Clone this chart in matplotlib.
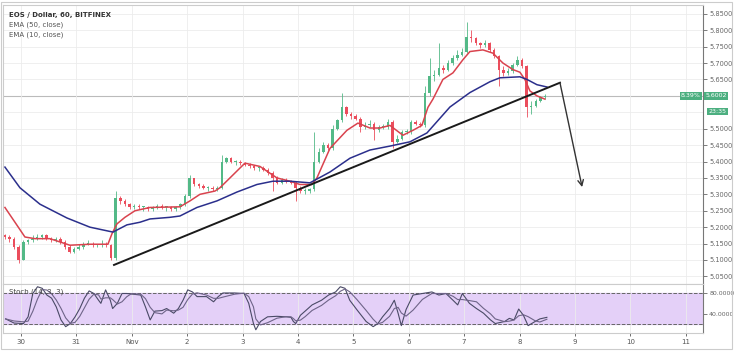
import numpy as np
import pandas as pd
import matplotlib
matplotlib.use('Agg')
import matplotlib.pyplot as plt
from matplotlib.patches import Rectangle

# %% data (x in days from Oct 30, hourly chart shown as 2h candles)
day_labels = ['30', '31', 'Nov', '2', '3', '4', '5', '6', '7', '8', '9', '10', '11']
first_candle_day = -0.29
candle_step_days = 2 / 24

closes = [5.17, 5.165, 5.14, 5.10, 5.155, 5.16, 5.165, 5.17, 5.175, 5.165,
          5.16, 5.165, 5.155, 5.14, 5.125, 5.135, 5.14, 5.15, 5.15, 5.145,
          5.145, 5.15, 5.145, 5.105, 5.29, 5.28, 5.27, 5.26, 5.265, 5.26,
          5.26, 5.255, 5.26, 5.265, 5.26, 5.26, 5.255, 5.26, 5.27, 5.295,
          5.35, 5.33, 5.325, 5.32, 5.32, 5.315, 5.32, 5.40, 5.41, 5.40,
          5.40, 5.395, 5.39, 5.385, 5.38, 5.38, 5.375, 5.365, 5.35, 5.335,
          5.345, 5.34, 5.335, 5.32, 5.31, 5.31, 5.315, 5.40, 5.43, 5.45,
          5.44, 5.50, 5.525, 5.565, 5.545, 5.54, 5.53, 5.505, 5.51, 5.515,
          5.495, 5.505, 5.505, 5.52, 5.46, 5.47, 5.49, 5.49, 5.52, 5.515,
          5.51, 5.61, 5.66, 5.665, 5.685, 5.68, 5.70, 5.715, 5.725, 5.735,
          5.78, 5.775, 5.76, 5.755, 5.76, 5.74, 5.72, 5.68, 5.67, 5.675,
          5.695, 5.71, 5.69, 5.565, 5.57, 5.585, 5.595, 5.60]
highs = [5.18, 5.175, 5.17, 5.145, 5.16, 5.165, 5.175, 5.18, 5.18, 5.18,
         5.17, 5.17, 5.17, 5.16, 5.145, 5.14, 5.15, 5.155, 5.16, 5.155,
         5.15, 5.16, 5.155, 5.15, 5.31, 5.295, 5.285, 5.275, 5.27, 5.27,
         5.265, 5.265, 5.265, 5.27, 5.27, 5.265, 5.265, 5.265, 5.275, 5.30,
         5.36, 5.35, 5.335, 5.33, 5.325, 5.325, 5.325, 5.42, 5.415, 5.415,
         5.405, 5.405, 5.40, 5.395, 5.39, 5.385, 5.385, 5.38, 5.37, 5.355,
         5.35, 5.35, 5.345, 5.34, 5.325, 5.32, 5.32, 5.49, 5.44, 5.46,
         5.455, 5.51, 5.53, 5.61, 5.57, 5.55, 5.545, 5.535, 5.52, 5.525,
         5.52, 5.51, 5.515, 5.53, 5.525, 5.48, 5.495, 5.50, 5.525, 5.525,
         5.52, 5.63, 5.715, 5.68, 5.76, 5.695, 5.71, 5.725, 5.74, 5.745,
         5.825, 5.80, 5.78, 5.765, 5.77, 5.765, 5.745, 5.725, 5.69, 5.685,
         5.70, 5.72, 5.715, 5.695, 5.585, 5.59, 5.60, 5.605]
lows = [5.165, 5.155, 5.135, 5.09, 5.10, 5.15, 5.155, 5.16, 5.165, 5.16,
        5.155, 5.155, 5.15, 5.135, 5.12, 5.12, 5.13, 5.135, 5.145, 5.14,
        5.14, 5.14, 5.14, 5.10, 5.10, 5.27, 5.265, 5.255, 5.255, 5.255,
        5.25, 5.25, 5.25, 5.255, 5.255, 5.25, 5.25, 5.25, 5.255, 5.265,
        5.29, 5.325, 5.32, 5.315, 5.31, 5.31, 5.31, 5.315, 5.395, 5.395,
        5.39, 5.39, 5.385, 5.38, 5.375, 5.37, 5.37, 5.36, 5.31, 5.33,
        5.33, 5.335, 5.33, 5.28, 5.305, 5.30, 5.305, 5.31, 5.395, 5.425,
        5.435, 5.435, 5.495, 5.52, 5.54, 5.53, 5.525, 5.49, 5.50, 5.505,
        5.465, 5.49, 5.50, 5.50, 5.44, 5.455, 5.465, 5.485, 5.485, 5.51,
        5.505, 5.505, 5.60, 5.645, 5.66, 5.67, 5.675, 5.695, 5.71, 5.72,
        5.73, 5.765, 5.755, 5.745, 5.75, 5.735, 5.715, 5.63, 5.66, 5.665,
        5.67, 5.69, 5.685, 5.535, 5.545, 5.565, 5.58, 5.59]
first_open = 5.175

ema10_days = [-0.289, -0.108, 0.072, 0.253, 0.523, 0.884, 1.245, 1.570, 1.643,
              1.733, 1.877, 2.058, 2.329, 2.870, 3.051, 3.231, 3.502, 3.592,
              3.773, 4.043, 4.314, 4.621, 4.856, 5.036, 5.253, 5.343, 5.578,
              5.884, 6.083, 6.300, 6.480, 6.661, 6.895, 7.076, 7.238, 7.347,
              7.437, 7.617, 7.798, 7.978, 8.105, 8.339, 8.520, 8.700, 8.881,
              9.007, 9.097, 9.188, 9.314, 9.458]
ema10_vals = [5.26, 5.215, 5.17, 5.165, 5.165, 5.145, 5.148, 5.148, 5.18,
              5.21, 5.23, 5.25, 5.26, 5.262, 5.28, 5.30, 5.31, 5.32,
              5.35, 5.395, 5.385, 5.35, 5.34, 5.33, 5.33, 5.35, 5.44,
              5.495, 5.517, 5.502, 5.502, 5.51, 5.48, 5.495, 5.51, 5.565,
              5.59, 5.65, 5.67, 5.71, 5.735, 5.74, 5.73, 5.70, 5.68,
              5.672, 5.65, 5.615, 5.60, 5.59]

ema50_days = [-0.289, -0.018, 0.343, 0.830, 1.245, 1.661, 1.913, 2.148, 2.329,
              2.690, 2.870, 3.177, 3.538, 3.899, 4.260, 4.549, 4.856, 5.217,
              5.578, 5.939, 6.300, 6.661, 7.022, 7.329, 7.744, 8.105, 8.466,
              8.646, 9.007, 9.134, 9.314, 9.495]
ema50_vals = [5.383, 5.32, 5.27, 5.228, 5.20, 5.185, 5.207, 5.215, 5.225,
              5.23, 5.234, 5.26, 5.28, 5.307, 5.33, 5.34, 5.34, 5.335,
              5.368, 5.41, 5.435, 5.447, 5.46, 5.487, 5.566, 5.61, 5.643,
              5.655, 5.658, 5.65, 5.634, 5.627]

trend_days = [1.68, 9.73]
trend_prices = [5.085, 5.64]
arrow_from = (9.73, 5.64)
arrow_to = (10.13, 5.322)
last_price = 5.6002
price_ticks = [5.05, 5.10, 5.15, 5.20, 5.25, 5.30, 5.35, 5.40, 5.45, 5.50,
               5.65, 5.70, 5.75, 5.80, 5.85]

stoch_days = [-0.277, -0.125, 0.045, 0.129, 0.214, 0.299, 0.384, 0.468, 0.553,
              0.638, 0.723, 0.807, 0.892, 0.977, 1.062, 1.146, 1.231, 1.316,
              1.401, 1.443, 1.528, 1.613, 1.655, 1.740, 1.824, 1.909, 1.994,
              2.163, 2.248, 2.333, 2.418, 2.545, 2.630, 2.757, 2.842, 2.926,
              3.011, 3.096, 3.180, 3.350, 3.477, 3.562, 3.646, 3.858, 4.028,
              4.112, 4.197, 4.240, 4.324, 4.452, 4.621, 4.790, 4.875, 4.918,
              4.960, 5.045, 5.130, 5.256, 5.426, 5.553, 5.680, 5.765, 5.850,
              5.935, 6.062, 6.231, 6.358, 6.443, 6.528, 6.655, 6.740, 6.808,
              6.867, 6.952, 7.079, 7.248, 7.418, 7.545, 7.672, 7.799, 7.884,
              7.968, 8.096, 8.223, 8.350, 8.477, 8.562, 8.732, 8.816, 8.901,
              8.985, 9.070, 9.155, 9.282, 9.367, 9.494]
stoch_k = [30, 22, 21, 34, 79, 92, 89, 76, 70, 53, 28, 15, 21, 34, 50, 70, 84,
           79, 66, 60, 86, 66, 50, 60, 79, 79, 78, 76, 53, 28, 45, 46, 50, 41,
           50, 66, 86, 82, 73, 73, 63, 73, 80, 80, 79, 60, 21, 9, 25, 34, 35,
           34, 33, 25, 21, 37, 45, 57, 66, 76, 82, 92, 89, 66, 48, 25, 15, 21,
           34, 50, 66, 41, 17, 48, 76, 79, 82, 76, 79, 66, 57, 79, 60, 50, 41,
           28, 21, 25, 31, 28, 49, 37, 17, 25, 30, 33]

# %% derived series
candle_days = first_candle_day + candle_step_days * np.arange(len(closes))
opens = [first_open] + closes[:-1]
up = np.array(closes) >= np.array(opens)
colors = np.where(up, '#53b987', '#eb4d5c')
body_bot = np.minimum(opens, closes)
body_h = np.maximum(np.abs(np.array(closes) - np.array(opens)), 0.003)
stoch_d = pd.Series(stoch_k).rolling(3, min_periods=1).mean()

# %% figure
plt.rcParams['font.family'] = ['DejaVu Sans']
fig = plt.figure(figsize=(7.36, 3.51), dpi=100)
ax = fig.add_axes([0.004, 0.191, 0.951, 0.795])
ax2 = fig.add_axes([0.004, 0.051, 0.951, 0.140], sharex=ax)

fig.patches.append(Rectangle((0.002, 0.005), 0.993, 0.99, transform=fig.transFigure,
                             fill=False, edgecolor='#cccccc', lw=0.8))

ax.vlines(candle_days, lows, highs, colors=colors, lw=0.6, zorder=2)
ax.bar(candle_days, body_h, bottom=body_bot, width=0.045, color=colors, zorder=2)
ax.plot(ema10_days, ema10_vals, color='#d9434e', lw=1.1, zorder=3)
ax.plot(ema50_days, ema50_vals, color='#2b2f8c', lw=1.1, zorder=3)
ax.plot(trend_days, trend_prices, color='#1a1a1a', lw=1.4, zorder=4)
ax.annotate('', xy=arrow_to, xytext=arrow_from,
            arrowprops=dict(arrowstyle='->', color='#333333', lw=1.0,
                            shrinkA=0, shrinkB=0), zorder=4)
ax.axhline(last_price, color='#bbbbbb', lw=0.8, zorder=1)

ax.set_xlim(-0.325, 12.31)
ax.set_ylim(5.027, 5.877)
ax.set_yticks(price_ticks)
ax.yaxis.set_major_formatter(matplotlib.ticker.FormatStrFormatter('%.4f'))
ax.yaxis.tick_right()
ax.tick_params(axis='y', labelsize=4.8, colors='#666666', length=3, pad=2, width=0.6)
ax.tick_params(axis='x', labelbottom=False, length=0)
ax.set_xticks(range(len(day_labels)))
ax.grid(color='#ececec', lw=0.6, zorder=0)
# grid rows whose labels sit under the price boxes
for y in [5.55, 5.60]:
    ax.axhline(y, color='#ececec', lw=0.6, zorder=0)
for s in ['left', 'top', 'bottom']:
    ax.spines[s].set_color('#cccccc')
ax.spines['right'].set_color('#777777')

ax.text(0.008, 0.975, 'EOS / Dollar, 60, BITFINEX', transform=ax.transAxes,
        fontsize=5, color='#333333', fontweight='bold', va='top')
ax.text(0.008, 0.94, 'EMA (50, close)', transform=ax.transAxes,
        fontsize=5, color='#555555', va='top')
ax.text(0.008, 0.905, 'EMA (10, close)', transform=ax.transAxes,
        fontsize=5, color='#555555', va='top')

box = dict(boxstyle='square,pad=0.2', fc='#4caf80', ec='none')
ax.text(1.004, last_price, '5.6002', transform=ax.get_yaxis_transform(),
        fontsize=4.5, color='white', va='center', ha='left', bbox=box)
ax.text(0.997, last_price, '8.39%', transform=ax.get_yaxis_transform(),
        fontsize=4.5, color='white', va='center', ha='right', bbox=box)
ax.text(1.008, 5.553, '23:35', transform=ax.get_yaxis_transform(),
        fontsize=4.5, color='white', va='center', ha='left', bbox=box)

# stochastic panel
ax2.axhspan(20, 80, color='#e4d0f8', zorder=0)
ax2.axhline(80, color='#666666', lw=0.7, ls='--')
ax2.axhline(20, color='#666666', lw=0.7, ls='--')
ax2.plot(stoch_days, stoch_k, color='#4a4a66', lw=0.8)
ax2.plot(stoch_days, stoch_d, color='#6e6488', lw=0.8)
ax2.set_ylim(2.6, 97.4)
ax2.set_yticks([40, 80])
ax2.yaxis.set_major_formatter(matplotlib.ticker.FormatStrFormatter('%.4f'))
ax2.yaxis.tick_right()
ax2.tick_params(axis='y', labelsize=4.5, colors='#666666', length=3, pad=1.5, width=0.6)
ax2.set_xticks(range(len(day_labels)))
ax2.set_xticklabels(day_labels)
ax2.tick_params(axis='x', labelsize=5, colors='#555555', length=2, pad=2, width=0.6)
ax2.grid(axis='x', color='#ececec', lw=0.6)
for s in ['left', 'top', 'bottom']:
    ax2.spines[s].set_color('#cccccc')
ax2.spines['right'].set_color('#777777')
ax2.text(0.008, 0.9, 'Stoch (14, 3, 3)', transform=ax2.transAxes,
         fontsize=5, color='#444444', va='top')

fig.savefig('out.png', dpi=100)
